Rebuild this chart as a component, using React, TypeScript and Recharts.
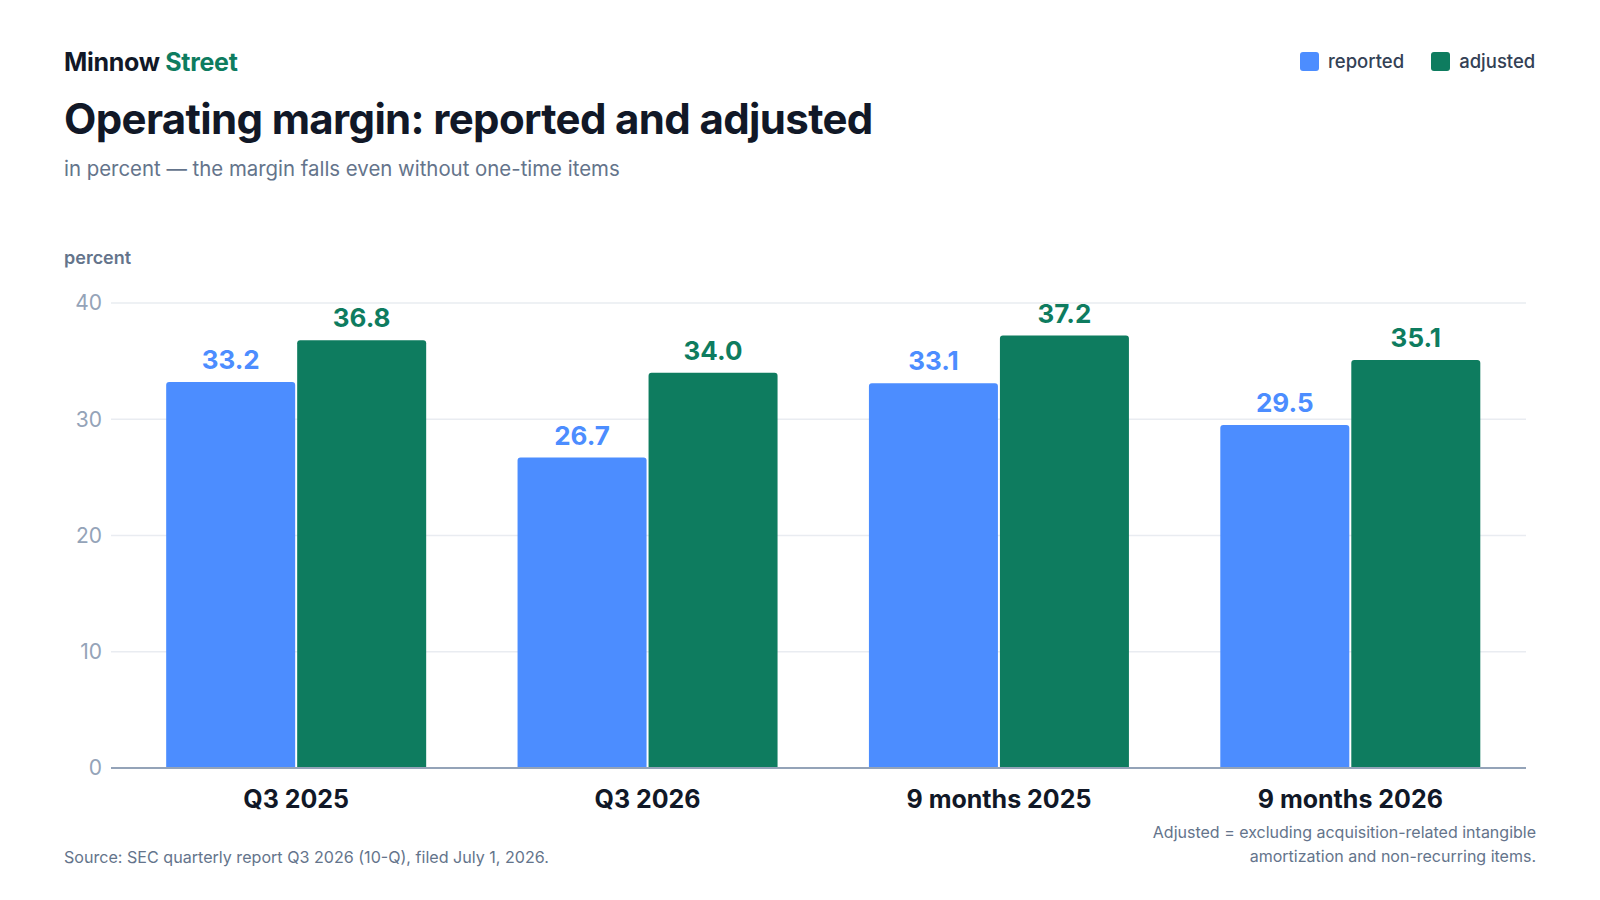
import React from "react";
import { BarChart, Bar, XAxis, YAxis, CartesianGrid, LabelList } from "recharts";

const categories = ["Q3 2025", "Q3 2026", "9 months 2025", "9 months 2026"];
const reported = [33.2, 26.7, 33.1, 29.5];
const adjusted = [36.8, 34.0, 37.2, 35.1];
const yTicks = [0, 10, 20, 30, 40];

const BLUE = "#4c8dff";
const GREEN = "#0e7c5f";

const data = categories.map((c, i) => ({ name: c, reported: reported[i], adjusted: adjusted[i] }));

const makeLabel = (color: string) => (props: any) => {
  const { x, y, width, value } = props;
  return (
    <text
      x={Number(x) + Number(width) / 2}
      y={Number(y) - 13}
      textAnchor="middle"
      fill={color}
      fontSize={26}
      fontWeight={700}
      fontFamily="Inter"
    >
      {Number(value).toFixed(1)}
    </text>
  );
};

export default function App() {
  return (
    <div
      style={{
        position: "absolute",
        left: 0,
        top: 0,
        width: 1600,
        height: 900,
        background: "#ffffff",
        fontFamily: "Inter, sans-serif",
        overflow: "hidden",
      }}
    >
      <div style={{ position: "absolute", left: 64, top: 50, fontSize: 25, lineHeight: "25px", fontWeight: 700, color: "#111827", letterSpacing: -0.3, whiteSpace: "nowrap" }}>
        Minnow <span style={{ color: GREEN }}>Street</span>
      </div>
      <div style={{ position: "absolute", left: 64, top: 98, fontSize: 42, lineHeight: "42px", fontWeight: 700, color: "#111827", letterSpacing: -0.65, whiteSpace: "nowrap" }}>
        Operating margin: reported and adjusted
      </div>
      <div style={{ position: "absolute", left: 64, top: 159, fontSize: 20.4, lineHeight: "20px", fontWeight: 400, color: "#64748b", whiteSpace: "nowrap" }}>
        in percent — the margin falls even without one-time items
      </div>
      <div style={{ position: "absolute", left: 64, top: 249, fontSize: 18, lineHeight: "18px", fontWeight: 600, color: "#64748b", whiteSpace: "nowrap" }}>
        percent
      </div>

      <div style={{ position: "absolute", left: 1300, top: 51.7, height: 19, display: "flex", alignItems: "center", whiteSpace: "nowrap" }}>
        <div style={{ width: 19, height: 19, borderRadius: 3, background: BLUE }} />
        <div style={{ marginLeft: 9, fontSize: 18.5, lineHeight: "19px", fontWeight: 500, color: "#334155" }}>reported</div>
        <div style={{ width: 19, height: 19, borderRadius: 3, background: GREEN, marginLeft: 27 }} />
        <div style={{ marginLeft: 9, fontSize: 18.5, lineHeight: "19px", fontWeight: 500, color: "#334155" }}>adjusted</div>
      </div>

      <div style={{ position: "absolute", left: 0, top: 0 }}>
        <BarChart
          width={1600}
          height={900}
          data={data}
          margin={{ top: 303, right: 74, bottom: 0, left: 0 }}
          barCategoryGap="13%"
          barGap={2}
        >
          <CartesianGrid horizontal={true} vertical={false} stroke="#e9ecf1" strokeWidth={1.5} />
          <XAxis
            dataKey="name"
            height={132}
            padding={{ left: 9.5, right: 0 }}
            tickLine={false}
            tickSize={0}
            tickMargin={22}
            axisLine={{ stroke: "#94a3b8", strokeWidth: 2 }}
            tick={{ fontSize: 25, fontWeight: 700, fill: "#111827", fontFamily: "Inter" }}
            interval={0}
          />
          <YAxis
            width={111}
            domain={[0, 40]}
            ticks={yTicks}
            tickLine={false}
            axisLine={false}
            tickSize={0}
            tickMargin={9}
            tick={{ fontSize: 21, fill: "#94a3b8", fontFamily: "Inter" }}
          />
          <Bar dataKey="reported" fill={BLUE} radius={[3, 3, 0, 0]} isAnimationActive={false}>
            <LabelList dataKey="reported" content={makeLabel(BLUE)} />
          </Bar>
          <Bar dataKey="adjusted" fill={GREEN} radius={[3, 3, 0, 0]} isAnimationActive={false}>
            <LabelList dataKey="adjusted" content={makeLabel(GREEN)} />
          </Bar>
        </BarChart>
      </div>

      <div style={{ position: "absolute", left: 64, top: 849, fontSize: 16.1, lineHeight: "16px", color: "#64748b", whiteSpace: "nowrap" }}>
        Source: SEC quarterly report Q3 2026 (10-Q), filed July 1, 2026.
      </div>
      <div style={{ position: "absolute", right: 64, top: 821, fontSize: 16, lineHeight: "23.7px", color: "#64748b", textAlign: "right", whiteSpace: "nowrap" }}>
        Adjusted = excluding acquisition-related intangible
        <br />
        amortization and non-recurring items.
      </div>
    </div>
  );
}
